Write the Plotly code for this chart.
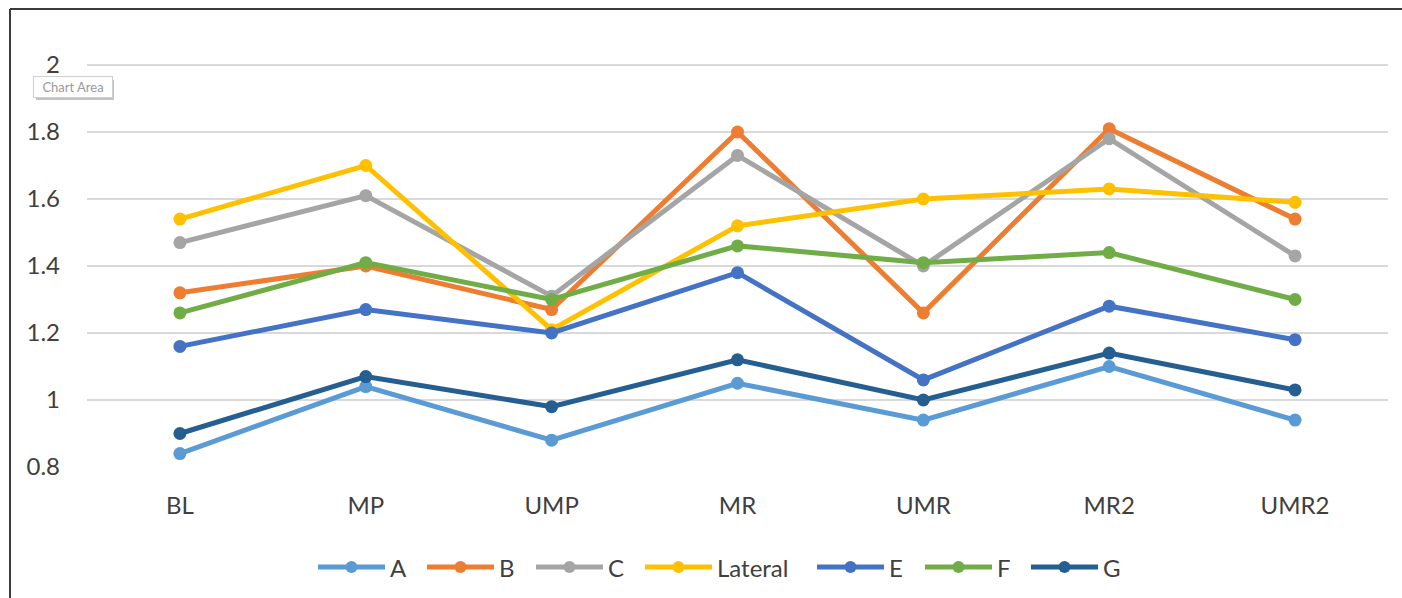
import plotly.graph_objects as go

# Measurement stages along the x axis
stages = ["BL", "MP", "UMP", "MR", "UMR", "MR2", "UMR2"]

# One series per measurement site
series_a = [0.84, 1.04, 0.88, 1.05, 0.94, 1.10, 0.94]
series_b = [1.32, 1.40, 1.27, 1.80, 1.26, 1.81, 1.54]
series_c = [1.47, 1.61, 1.31, 1.73, 1.40, 1.78, 1.43]
series_lateral = [1.54, 1.70, 1.21, 1.52, 1.60, 1.63, 1.59]
series_e = [1.16, 1.27, 1.20, 1.38, 1.06, 1.28, 1.18]
series_f = [1.26, 1.41, 1.30, 1.46, 1.41, 1.44, 1.30]
series_g = [0.90, 1.07, 0.98, 1.12, 1.00, 1.14, 1.03]

series_names = ["A", "B", "C", "Lateral", "E", "F", "G"]
series_values = [series_a, series_b, series_c, series_lateral, series_e, series_f, series_g]
series_colors = ["#5B9BD5", "#ED7D31", "#A5A5A5", "#FFC000", "#4472C4", "#70AD47", "#255E91"]

y_ticks = [0.8, 1.0, 1.2, 1.4, 1.6, 1.8, 2.0]
y_tick_text = ["0.8", "1", "1.2", "1.4", "1.6", "1.8", "2"]

W, H = 1402, 598
M_L, M_R, M_T, M_B = 87, 14, 58, 131
PW, PH = W - M_L - M_R, H - M_T - M_B
# small headroom above 2 so its gridline is drawn inside the plot area
Y_TOP = 2.0 + 7 / 335


def px_x(px):
    return (px - M_L) / PW


def px_y(py):
    return (H - M_B - py) / PH


TEXT = "#404040"
FONT = "Lato, 'Open Sans', sans-serif"

fig = go.Figure()
for name, vals, color in zip(series_names, series_values, series_colors):
    fig.add_trace(go.Scatter(
        x=stages, y=vals, name=name, mode="lines+markers",
        line=dict(color=color, width=5),
        marker=dict(color=color, size=13),
        cliponaxis=False, showlegend=False,
    ))

fig.update_layout(
    width=W, height=H,
    margin=dict(l=M_L, r=M_R, t=M_T, b=M_B),
    paper_bgcolor="white", plot_bgcolor="white",
    font=dict(family=FONT, color=TEXT, size=24),
    showlegend=False,
    xaxis=dict(
        type="category", range=[-0.5, 6.5],
        showgrid=False, zeroline=False, showline=False,
        ticks="", ticklabelstandoff=22,
        tickfont=dict(size=24, color=TEXT),
    ),
    yaxis=dict(
        range=[0.8, Y_TOP], tickvals=y_ticks, ticktext=y_tick_text,
        showgrid=True, gridcolor="#D9D9D9", gridwidth=2,
        zeroline=False, showline=False, ticks="",
        ticklabelstandoff=26,
        tickfont=dict(size=24, color=TEXT),
    ),
)

# Legend row beneath the plot: line-with-marker swatch followed by the series name
LEG_Y = 567
LEG_SWATCH = 67
legend_left = [318, 427, 536, 645, 817, 925, 1031]
for name, color, left in zip(series_names, series_colors, legend_left):
    fig.add_shape(type="line", xref="paper", yref="paper",
                  x0=px_x(left), x1=px_x(left + LEG_SWATCH),
                  y0=px_y(LEG_Y), y1=px_y(LEG_Y),
                  line=dict(color=color, width=5))
    mid = left + LEG_SWATCH / 2
    fig.add_shape(type="circle", xref="paper", yref="paper",
                  x0=px_x(mid - 6), x1=px_x(mid + 6),
                  y0=px_y(LEG_Y + 6), y1=px_y(LEG_Y - 6),
                  line=dict(width=0), fillcolor=color)
    fig.add_annotation(text=name, xref="paper", yref="paper",
                       x=px_x(left + LEG_SWATCH + 3), y=px_y(LEG_Y),
                       xanchor="left", yanchor="middle", showarrow=False,
                       font=dict(size=24, color=TEXT, family=FONT))

# Chart frame (left and top edges of the chart area)
fig.add_shape(type="line", xref="paper", yref="paper",
              x0=px_x(10), x1=px_x(10), y0=px_y(9), y1=px_y(H + 5),
              line=dict(color="#3C3C3C", width=2))
fig.add_shape(type="line", xref="paper", yref="paper",
              x0=px_x(10), x1=px_x(W + 5), y0=px_y(9), y1=px_y(9),
              line=dict(color="#3C3C3C", width=2))

# "Chart Area" hover tag with a soft shadow
fig.add_shape(type="rect", xref="paper", yref="paper",
              x0=px_x(36), x1=px_x(114), y0=px_y(80), y1=px_y(100),
              line=dict(width=0), fillcolor="#9A9A9A", opacity=0.6, layer="above")
fig.add_annotation(
    text="Chart Area", xref="paper", yref="paper",
    x=px_x(33), y=px_y(76), xanchor="left", yanchor="top",
    showarrow=False, font=dict(size=13, color="#9A9A9A", family=FONT),
    bgcolor="white", bordercolor="#CFCFCF", borderwidth=1, borderpad=2,
    width=74,
)

fig.write_html("out.html")
